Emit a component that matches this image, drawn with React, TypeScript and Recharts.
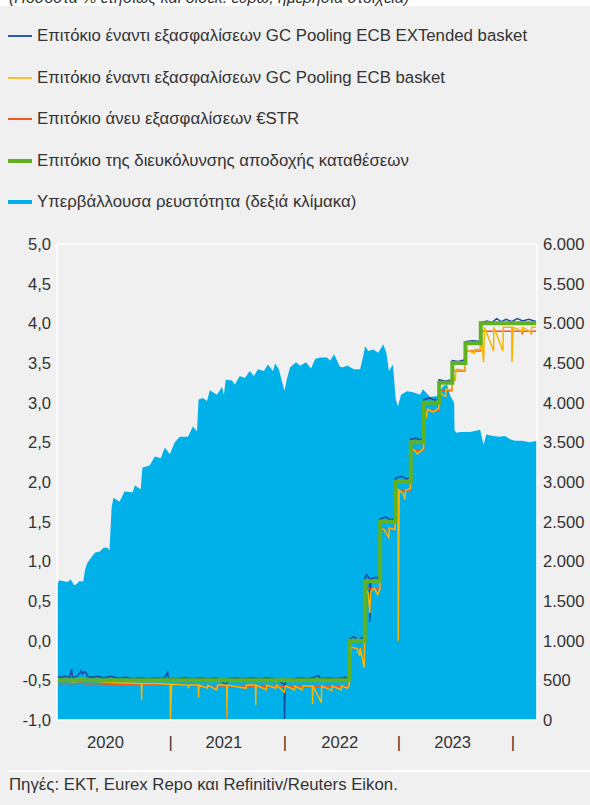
import React from 'react';
import { ComposedChart, Area, Line, XAxis, YAxis, ReferenceLine } from 'recharts';

const FONT = '"Liberation Sans", Arial, Helvetica, sans-serif';

// Υπερβάλλουσα ρευστότητα (δισεκ. ευρώ, δεξιά κλίμακα)
const excessLiquidity: [string, number][] = [
  ["2020-01-03",1700],["2020-01-10",1760],["2020-02-05",1740],["2020-02-16",1770],["2020-02-27",1700],["2020-03-05",1710],
  ["2020-03-14",1750],["2020-03-27",1745],["2020-04-02",1900],["2020-04-09",1980],["2020-04-22",2050],["2020-05-04",2110],
  ["2020-05-18",2120],["2020-05-31",2170],["2020-06-12",2170],["2020-06-19",2140],["2020-06-26",2690],["2020-07-02",2800],
  ["2020-07-21",2750],["2020-08-06",2880],["2020-09-01",2870],["2020-09-08",2955],["2020-09-27",2910],["2020-10-02",3180],
  ["2020-10-26",3210],["2020-11-11",3320],["2020-11-30",3300],["2020-12-13",3435],["2020-12-29",3350],["2021-01-14",3500],
  ["2021-01-30",3570],["2021-02-25",3570],["2021-03-13",3700],["2021-03-26",3640],["2021-03-31",4040],["2021-04-14",4060],
  ["2021-04-27",4020],["2021-05-06",4155],["2021-05-29",4100],["2021-06-14",4200],["2021-06-20",4100],["2021-06-26",4290],
  ["2021-07-16",4280],["2021-07-25",4230],["2021-08-10",4335],["2021-08-26",4310],["2021-09-11",4400],["2021-09-24",4335],
  ["2021-10-07",4420],["2021-10-26",4400],["2021-11-08",4480],["2021-11-24",4400],["2021-12-01",4495],["2021-12-13",4420],
  ["2021-12-24",4250],["2021-12-31",4150],["2022-01-07",4290],["2022-01-18",4445],["2022-02-06",4510],["2022-02-19",4465],
  ["2022-03-10",4510],["2022-03-26",4430],["2022-04-08",4550],["2022-04-24",4570],["2022-05-16",4570],["2022-05-26",4530],
  ["2022-06-08",4610],["2022-06-17",4530],["2022-06-27",4450],["2022-07-07",4445],["2022-07-20",4470],["2022-07-29",4445],
  ["2022-08-11",4420],["2022-08-30",4420],["2022-09-09",4590],["2022-09-15",4710],["2022-09-25",4650],["2022-10-11",4670],
  ["2022-10-27",4630],["2022-11-12",4735],["2022-11-22",4630],["2022-11-30",4400],["2022-12-13",4480],["2022-12-22",4040],
  ["2022-12-29",3955],["2023-01-08",4100],["2023-01-27",4145],["2023-02-16",4130],["2023-03-10",4100],["2023-03-19",4170],
  ["2023-04-11",4070],["2023-05-03",4085],["2023-05-23",4210],["2023-06-04",4230],["2023-06-14",4090],["2023-06-27",4000],
  ["2023-06-28",3660],["2023-07-03",3620],["2023-07-16",3630],["2023-08-17",3630],["2023-09-18",3660],["2023-09-29",3470],
  ["2023-10-08",3600],["2023-10-29",3580],["2023-11-20",3570],["2023-12-06",3580],["2023-12-25",3535],["2024-01-07",3520],
  ["2024-01-30",3520],["2024-02-24",3500],["2024-03-18",3520]
];

// Επιτόκιο έναντι εξασφαλίσεων GC Pooling ECB EXTended basket
const gcPoolingExtended: [string, number][] = [
  ["2020-01-03",-0.45],["2020-01-15",-0.46],["2020-01-29",-0.45],["2020-02-12",-0.46],["2020-02-19",-0.36],["2020-02-21",-0.46],
  ["2020-03-06",-0.45],["2020-03-16",-0.41],["2020-03-20",-0.38],["2020-03-25",-0.42],["2020-03-31",-0.39],["2020-04-06",-0.41],
  ["2020-04-09",-0.45],["2020-04-24",-0.46],["2020-05-12",-0.45],["2020-06-01",-0.47],["2020-06-22",-0.45],["2020-07-15",-0.47],
  ["2020-08-10",-0.46],["2020-09-01",-0.48],["2020-09-25",-0.47],["2020-10-20",-0.48],["2020-11-15",-0.47],["2020-12-10",-0.48],
  ["2020-12-22",-0.40],["2020-12-24",-0.48],["2021-01-20",-0.48],["2021-02-15",-0.47],["2021-03-10",-0.48],["2021-04-05",-0.47],
  ["2021-05-01",-0.48],["2021-05-28",-0.47],["2021-06-29",-0.56],["2021-06-30",-1.0],["2021-07-01",-0.48],["2021-07-25",-0.47],
  ["2021-08-20",-0.48],["2021-09-15",-0.47],["2021-10-10",-0.48],["2021-11-05",-0.47],["2021-11-30",-0.48],["2021-12-30",-0.55],
  ["2021-12-31",-1.0],["2022-01-03",-0.49],["2022-01-28",-0.48],["2022-02-22",-0.47],["2022-03-20",-0.48],["2022-04-20",-0.44],
  ["2022-04-25",-0.48],["2022-05-20",-0.47],["2022-06-15",-0.48],["2022-07-15",-0.46],["2022-07-26",-0.47],
  ["2022-07-27",0.02],["2022-08-10",0.05],["2022-08-25",0.0],["2022-09-05",0.04],["2022-09-13",0.02],
  ["2022-09-14",0.78],["2022-09-20",0.83],["2022-09-29",0.78],["2022-09-30",0.24],["2022-10-03",0.78],["2022-10-20",0.80],["2022-11-01",0.78],
  ["2022-11-02",1.53],["2022-11-20",1.56],["2022-12-05",1.52],["2022-12-20",1.54],
  ["2022-12-21",2.05],["2023-01-10",2.07],["2023-01-25",2.04],["2023-02-07",2.06],
  ["2023-02-08",2.54],["2023-02-25",2.55],["2023-03-10",2.53],["2023-03-21",2.55],
  ["2023-03-22",3.04],["2023-04-10",3.06],["2023-04-25",3.03],["2023-05-09",3.05],
  ["2023-05-10",3.29],["2023-05-30",3.27],["2023-06-20",3.29],
  ["2023-06-21",3.53],["2023-07-10",3.52],["2023-08-01",3.54],
  ["2023-08-02",3.77],["2023-08-25",3.78],["2023-09-19",3.77],
  ["2023-09-20",4.01],["2023-10-10",4.03],["2023-10-25",4.01],["2023-11-10",4.06],["2023-11-25",4.02],["2023-12-10",4.05],
  ["2023-12-28",4.02],["2024-01-15",4.06],["2024-02-01",4.03],["2024-02-20",4.05],["2024-03-18",4.02]
];

// Επιτόκιο έναντι εξασφαλίσεων GC Pooling ECB basket
const gcPoolingBasket: [string, number][] = [
  ["2020-01-03",-0.51],["2020-02-01",-0.51],["2020-03-01",-0.52],["2020-03-18",-0.48],["2020-04-05",-0.49],["2020-04-20",-0.51],
  ["2020-06-01",-0.52],["2020-07-15",-0.53],["2020-09-29",-0.54],["2020-09-30",-0.75],["2020-10-01",-0.54],["2020-11-15",-0.54],
  ["2020-12-30",-0.55],["2020-12-31",-1.0],["2021-01-04",-0.55],["2021-02-25",-0.56],["2021-02-26",-0.60],["2021-03-01",-0.56],
  ["2021-03-30",-0.56],["2021-03-31",-0.72],["2021-04-01",-0.56],["2021-04-28",-0.60],["2021-04-29",-0.56],["2021-05-28",-0.62],
  ["2021-05-31",-0.56],["2021-06-29",-0.56],["2021-06-30",-0.98],["2021-07-01",-0.56],["2021-08-30",-0.60],["2021-08-31",-0.56],
  ["2021-09-29",-0.56],["2021-09-30",-0.81],["2021-10-01",-0.56],["2021-11-03",-0.62],["2021-11-04",-0.56],["2021-12-03",-0.60],
  ["2021-12-06",-0.56],["2021-12-31",-0.65],["2022-01-03",-0.57],["2022-02-01",-0.62],["2022-02-02",-0.57],["2022-02-25",-0.62],
  ["2022-02-28",-0.57],["2022-03-30",-0.57],["2022-03-31",-0.80],["2022-04-01",-0.57],["2022-04-28",-0.78],["2022-04-29",-0.57],
  ["2022-05-31",-0.63],["2022-06-01",-0.57],["2022-06-30",-0.62],["2022-07-01",-0.57],["2022-07-20",-0.60],["2022-07-26",-0.57],
  ["2022-07-27",-0.06],["2022-07-29",-0.24],["2022-08-01",-0.08],["2022-08-20",-0.10],["2022-08-29",-0.19],["2022-08-30",-0.09],
  ["2022-09-12",-0.34],["2022-09-13",-0.10],
  ["2022-09-14",0.65],["2022-09-25",0.60],["2022-09-30",0.35],["2022-10-03",0.62],["2022-10-15",0.66],["2022-10-25",0.58],["2022-11-01",0.64],
  ["2022-11-02",1.42],["2022-11-15",1.40],["2022-11-30",1.30],["2022-12-01",1.42],["2022-12-20",1.40],
  ["2022-12-21",1.92],["2022-12-29",1.90],["2022-12-30",0.0],["2023-01-02",1.90],["2023-01-15",1.85],["2023-01-20",1.78],
  ["2023-01-23",1.90],["2023-02-07",1.92],
  ["2023-02-08",2.42],["2023-02-20",2.40],["2023-03-01",2.35],["2023-03-21",2.42],
  ["2023-03-22",2.92],["2023-03-31",2.83],["2023-04-03",2.92],["2023-04-20",2.88],["2023-05-09",2.93],
  ["2023-05-10",3.17],["2023-05-20",3.10],["2023-05-31",3.08],["2023-06-01",3.17],["2023-06-20",3.16],
  ["2023-06-21",3.42],["2023-06-30",3.27],["2023-07-03",3.42],["2023-08-01",3.41],
  ["2023-08-02",3.67],["2023-08-31",3.62],["2023-09-01",3.67],["2023-09-19",3.67],
  ["2023-09-20",3.95],["2023-09-29",3.51],["2023-10-02",3.95],["2023-10-31",3.65],["2023-11-01",3.95],["2023-11-30",3.65],
  ["2023-12-01",3.95],["2023-12-28",3.95],["2023-12-29",3.51],["2024-01-02",3.95],["2024-01-31",3.90],["2024-02-01",3.95],
  ["2024-02-29",3.88],["2024-03-01",3.95],["2024-03-18",3.95]
];

// Επιτόκιο άνευ εξασφαλίσεων €STR
const estr: [string, number][] = [
  ["2020-01-03",-0.54],["2020-03-10",-0.54],["2020-03-16",-0.53],["2020-04-10",-0.55],["2020-04-14",-0.54],["2020-06-30",-0.55],
  ["2020-12-31",-0.56],["2021-06-30",-0.57],["2021-12-31",-0.58],["2022-07-26",-0.58],
  ["2022-07-27",-0.09],["2022-09-13",-0.09],["2022-09-14",0.65],["2022-11-01",0.66],["2022-11-02",1.40],["2022-12-20",1.40],
  ["2022-12-21",1.90],["2023-02-07",1.90],["2023-02-08",2.40],["2023-03-21",2.40],["2023-03-22",2.90],["2023-05-09",2.90],
  ["2023-05-10",3.15],["2023-06-20",3.15],["2023-06-21",3.40],["2023-08-01",3.40],["2023-08-02",3.65],["2023-09-19",3.65],
  ["2023-09-20",3.90],["2024-01-30",3.90],["2024-01-31",3.86],["2024-02-01",3.90],["2024-02-28",3.90],["2024-02-29",3.86],
  ["2024-03-01",3.90],["2024-03-18",3.90]
];

// Επιτόκιο της διευκόλυνσης αποδοχής καταθέσεων
const depositFacilityRate: [string, number][] = [
  ["2020-01-03",-0.5],["2022-07-27",0.0],["2022-09-14",0.75],["2022-11-02",1.5],["2022-12-21",2.0],["2023-02-08",2.5],
  ["2023-03-22",3.0],["2023-05-10",3.25],["2023-06-21",3.5],["2023-08-02",3.75],["2023-09-20",4.0],["2024-03-18",4.0]
];

const leftTicks = [-1, -0.5, 0, 0.5, 1, 1.5, 2, 2.5, 3, 3.5, 4, 4.5, 5];
const rightTicks = [0, 500, 1000, 1500, 2000, 2500, 3000, 3500, 4000, 4500, 5000, 5500, 6000];
const yearLabels: [string, string][] = [["2020-06-06", "2020"], ["2021-06-20", "2021"], ["2022-06-26", "2022"], ["2023-06-22", "2023"]];
const yearBoundaries = ["2021-01-01", "2022-01-01", "2023-01-01", "2024-01-01"];
const xRange = ["2020-01-03", "2024-03-18"];

const legendItems = [
  { label: "Επιτόκιο έναντι εξασφαλίσεων GC Pooling ECB EXTended basket", color: "#2f58b3", w: 2 },
  { label: "Επιτόκιο έναντι εξασφαλίσεων GC Pooling ECB basket", color: "#f9c233", w: 2 },
  { label: "Επιτόκιο άνευ εξασφαλίσεων €STR", color: "#f05a22", w: 2 },
  { label: "Επιτόκιο της διευκόλυνσης αποδοχής καταθέσεων", color: "#62b022", w: 4 },
  { label: "Υπερβάλλουσα ρευστότητα (δεξιά κλίμακα)", color: "#00b0e8", w: 4 },
];

const toT = (d: string) => Date.UTC(+d.slice(0, 4), +d.slice(5, 7) - 1, +d.slice(8, 10));

function buildRows() {
  const map = new Map<number, any>();
  const add = (arr: [string, number][], key: string) =>
    arr.forEach(([d, v]) => {
      const t = toT(d);
      const r = map.get(t) ?? { t };
      r[key] = v;
      map.set(t, r);
    });
  add(excessLiquidity, 'liq');
  add(gcPoolingExtended, 'ext');
  add(gcPoolingBasket, 'gc');
  add(estr, 'estr');
  add(depositFacilityRate, 'dfr');
  return [...map.values()].sort((a, b) => a.t - b.t);
}

const rows = buildRows();
const labelMap = new Map<number, string>();
yearLabels.forEach(([d, l]) => labelMap.set(toT(d), l));
yearBoundaries.forEach((d) => labelMap.set(toT(d), '|'));
const xTicks = [...labelMap.keys()].sort((a, b) => a - b);

const fmtLeft = (v: number) => v.toFixed(1).replace('.', ',');
const fmtRight = (v: number) => (v >= 1000 ? `${Math.floor(v / 1000)}.${String(v % 1000).padStart(3, '0')}` : String(v));

const TICK_FS = 16.6;

const XTick = (props: any) => {
  const { x, y, payload } = props;
  const label = labelMap.get(payload.value) ?? '';
  return (
    <text x={x} y={y} dy="0.71em" textAnchor="middle" fill="#333" fontSize={TICK_FS} fontFamily={FONT}>
      {label}
    </text>
  );
};

export default function App() {
  return (
    <div style={{ position: 'absolute', left: 0, top: 0, width: 590, height: 805, background: '#f0f0f0', overflow: 'hidden', fontFamily: FONT }}>
      <div style={{ position: 'absolute', left: 0, top: 0, width: 590, height: 6, background: '#fff', overflow: 'hidden' }}>
        <div style={{ position: 'absolute', left: 9, top: -10, fontSize: 16, lineHeight: '16px', fontStyle: 'italic', color: '#333', whiteSpace: 'nowrap' }}>
          (Ποσοστά % ετησίως και δισεκ. ευρώ, ημερήσια στοιχεία)
        </div>
      </div>
      <div style={{ position: 'absolute', left: 0, top: 0 }}>
        <ComposedChart width={590} height={760} data={rows} margin={{ top: 244, right: 0, bottom: 0, left: 0 }}>
          <XAxis
            dataKey="t"
            type="number"
            scale="linear"
            domain={[toT(xRange[0]), toT(xRange[1])]}
            allowDataOverflow
            ticks={xTicks}
            tick={XTick}
            tickLine={false}
            tickSize={0}
            tickMargin={16}
            height={40}
            axisLine={{ stroke: '#ffffff', strokeWidth: 1.5 }}
            interval={0}
          />
          <YAxis
            yAxisId="left"
            domain={[-1, 5]}
            ticks={leftTicks}
            tickFormatter={fmtLeft}
            width={57}
            tickLine={false}
            tickSize={0}
            tickMargin={6}
            axisLine={{ stroke: '#ffffff', strokeWidth: 1.5 }}
            tick={{ fill: '#333', fontSize: TICK_FS, fontFamily: FONT }}
            interval={0}
          />
          <YAxis
            yAxisId="right"
            orientation="right"
            domain={[0, 6000]}
            ticks={rightTicks}
            tickFormatter={fmtRight}
            width={53}
            tickLine={false}
            tickSize={0}
            tickMargin={6}
            axisLine={{ stroke: '#ffffff', strokeWidth: 1.5 }}
            tick={{ fill: '#333', fontSize: TICK_FS, fontFamily: FONT, textAnchor: 'start' }}
            interval={0}
          />
          <Area
            yAxisId="right"
            dataKey="liq"
            type="linear"
            stroke="none"
            fill="#00b0e8"
            fillOpacity={1}
            connectNulls
            isAnimationActive={false}
            dot={false}
            activeDot={false}
          />
          <Line yAxisId="left" dataKey="ext" type="linear" stroke="#1d4a9c" strokeWidth={1.5} dot={false} activeDot={false} connectNulls isAnimationActive={false} />
          <Line yAxisId="left" dataKey="estr" type="linear" stroke="#f05a22" strokeWidth={1.5} dot={false} activeDot={false} connectNulls isAnimationActive={false} />
          <Line yAxisId="left" dataKey="gc" type="linear" stroke="#f7b500" strokeWidth={1.5} dot={false} activeDot={false} connectNulls isAnimationActive={false} />
          <Line yAxisId="left" dataKey="dfr" type="stepAfter" stroke="#5fb222" strokeWidth={4} dot={false} activeDot={false} connectNulls isAnimationActive={false} />
          <ReferenceLine yAxisId="left" y={5} stroke="#ffffff" strokeWidth={1.5} />
        </ComposedChart>
      </div>
      {legendItems.map((it, i) => (
        <div key={i} style={{ position: 'absolute', left: 8, top: 36 + i * 41.6 - 10, height: 20, display: 'flex', alignItems: 'center', whiteSpace: 'nowrap' }}>
          <div style={{ width: 24, height: it.w, background: it.color, marginRight: 5 }} />
          <span style={{ fontSize: 16.8, lineHeight: '20px', color: '#333' }}>{it.label}</span>
        </div>
      ))}
      <div style={{ position: 'absolute', left: 8, top: 770, width: 582, height: 2, background: '#fff' }} />
      <div style={{ position: 'absolute', left: 9, top: 775, fontSize: 16.8, lineHeight: '20px', color: '#333', whiteSpace: 'nowrap' }}>
        Πηγές: ΕΚΤ, Eurex Repo και Refinitiv/Reuters Eikon.
      </div>
    </div>
  );
}
